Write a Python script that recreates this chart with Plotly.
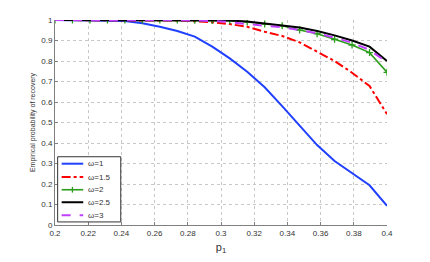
import numpy as np
import plotly.graph_objects as go

p1 = [0.2 + k * 0.2 / 19 for k in range(20)]

w1 = [1.0, 0.999, 0.998, 0.997, 0.995, 0.984, 0.967, 0.946, 0.919, 0.87,
      0.813, 0.748, 0.672, 0.58, 0.485, 0.39, 0.312, 0.255, 0.194, 0.094]
w15 = [1.0, 1.0, 1.0, 1.0, 1.0, 0.999, 0.998, 0.997, 0.994, 0.989,
       0.98, 0.967, 0.943, 0.922, 0.891, 0.846, 0.80, 0.743, 0.678, 0.541]
w2 = [1.0, 1.0, 1.0, 1.0, 1.0, 1.0, 1.0, 1.0, 0.999, 0.998,
      0.997, 0.99, 0.98, 0.972, 0.951, 0.933, 0.906, 0.878, 0.841, 0.745]
w25 = [1.0, 1.0, 1.0, 1.0, 1.0, 1.0, 1.0, 1.0, 1.0, 0.999,
       0.997, 0.993, 0.984, 0.974, 0.963, 0.946, 0.925, 0.90, 0.87, 0.80]
w3 = [1.0, 1.0, 1.0, 1.0, 1.0, 1.0, 1.0, 0.999, 0.998, 0.995,
      0.99, 0.98, 0.971, 0.965, 0.951, 0.935, 0.914, 0.889, 0.854, 0.794]

series_names = ["ω=1", "ω=1.5", "ω=2", "ω=2.5", "ω=3"]
series_values = [w1, w15, w2, w25, w3]
series_colors = ["#2040ff", "#ff0000", "#2a9d1a", "#000000", "#c040ff"]
series_dash = ["solid", "dashdot", "solid", "solid", "dash"]
series_width = [2, 2, 1.6, 2, 2]

x_ticks = [0.2, 0.22, 0.24, 0.26, 0.28, 0.3, 0.32, 0.34, 0.36, 0.38, 0.4]
y_ticks = [0, 0.1, 0.2, 0.3, 0.4, 0.5, 0.6, 0.7, 0.8, 0.9, 1]

FONT = "Liberation Sans, Arial"
TXT = "#333333"

fig = go.Figure()
for name, vals, col, dash, w in zip(series_names, series_values, series_colors,
                                    series_dash, series_width):
    if name == "ω=2":
        fig.add_trace(go.Scatter(x=p1, y=vals, mode="lines+markers", name=name,
                                 line=dict(color=col, width=w, dash=dash),
                                 marker=dict(symbol="cross-thin", size=5,
                                             line=dict(color=col, width=1.3))))
    else:
        fig.add_trace(go.Scatter(x=p1, y=vals, mode="lines", name=name,
                                 line=dict(color=col, width=w, dash=dash)))

# custom compact legend (MATLAB style), in paper coordinates
shapes = [dict(type="rect", xref="paper", yref="paper", x0=0.008, x1=0.198,
               y0=0.015, y1=0.333, fillcolor="white",
               line=dict(color="#333333", width=1), layer="above")]
annotations = []
entry_y = [0.299, 0.234, 0.172, 0.111, 0.047]
for name, col, dash, w, yy in zip(series_names, series_colors, series_dash,
                                  series_width, entry_y):
    shapes.append(dict(type="line", xref="paper", yref="paper", x0=0.020, x1=0.085,
                       y0=yy, y1=yy, line=dict(color=col, width=w, dash=dash),
                       layer="above"))
    if name == "ω=2":
        shapes.append(dict(type="line", xref="paper", yref="paper", x0=0.0525, x1=0.0525,
                           y0=yy - 0.014, y1=yy + 0.014,
                           line=dict(color=col, width=1.3), layer="above"))
    annotations.append(dict(text=name, xref="paper", yref="paper", x=0.093, y=yy,
                            xanchor="left", yanchor="middle", showarrow=False,
                            font=dict(family=FONT, size=8, color=TXT)))

axis_common = dict(
    showline=True, linecolor="#808080", linewidth=1,
    ticks="inside", ticklen=3, tickcolor="#808080",
    showgrid=True, gridcolor="#c8c8c8", griddash="dot", gridwidth=1,
    zeroline=False, automargin=False,
    tickfont=dict(family=FONT, size=8, color=TXT),
)

# page body has an 8px default margin; compensate so the plot sits where the reference does
fig.update_layout(
    width=422, height=254,
    margin=dict(l=47, r=43, t=12, b=37),
    paper_bgcolor="white", plot_bgcolor="white",
    showlegend=False,
    shapes=shapes, annotations=annotations,
    xaxis=dict(range=[0.2, 0.4], tickvals=x_ticks,
               ticktext=[f"{v:g}" for v in x_ticks],
               title=dict(text="p<sub>1</sub>", standoff=6,
                          font=dict(family=FONT, size=11, color=TXT)),
               **axis_common),
    yaxis=dict(range=[0, 1], tickvals=y_ticks,
               ticktext=[f"{v:g}" for v in y_ticks],
               title=dict(text="Empirical probability of recovery", standoff=4,
                          font=dict(family=FONT, size=7, color=TXT)),
               **axis_common),
)

fig.write_html("out.html")
